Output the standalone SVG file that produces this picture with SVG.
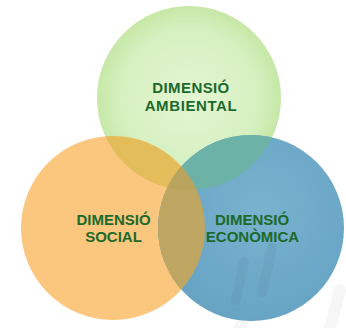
<svg xmlns="http://www.w3.org/2000/svg" width="346" height="328" viewBox="0 0 346 328">
<style>
.lbl{font-family:"Liberation Sans",Arial,sans-serif;font-weight:bold;font-size:15px;fill:#1b6a2b;text-anchor:middle}
.wm{fill:none;stroke:#000;stroke-opacity:0.035;stroke-linecap:round}
</style>
<defs>
<radialGradient id="gG" cx="0.5" cy="0.5" r="0.5">
<stop offset="0" stop-color="#e3f6d3"/>
<stop offset="0.75" stop-color="#d6f0c0"/>
<stop offset="1" stop-color="#c6e8a6"/>
</radialGradient>
<radialGradient id="gB" cx="0.55" cy="0.4" r="0.6">
<stop offset="0" stop-color="#78b2ce"/>
<stop offset="1" stop-color="#67a4c4"/>
</radialGradient>
<clipPath id="cG"><circle cx="189" cy="98" r="92"/></clipPath>
<clipPath id="cO"><circle cx="113" cy="228" r="92"/></clipPath>
<clipPath id="cB"><circle cx="251" cy="228" r="93"/></clipPath>
</defs>
<rect width="346" height="328" fill="#ffffff"/>
<g id="watermark">
<path class="wm" d="M252 298 L240 328" stroke-width="12"/>
<path class="wm" d="M340 290 L330 328" stroke-width="12"/>
</g>
<g id="ambiental">
<circle cx="189" cy="98" r="92" fill="url(#gG)"/>
</g>
<g id="social">
<circle cx="113" cy="228" r="92" fill="#fbc67d"/>
</g>
<g id="economica">
<circle cx="251" cy="228" r="93" fill="url(#gB)"/>
</g>
<g id="overlaps">
<g clip-path="url(#cG)"><circle cx="113" cy="228" r="92" fill="#e3bd59"/></g>
<g clip-path="url(#cG)"><circle cx="251" cy="228" r="93" fill="#6db2a6"/></g>
<g clip-path="url(#cO)"><circle cx="251" cy="228" r="93" fill="#c0a663"/></g>
<g clip-path="url(#cO)"><g clip-path="url(#cG)"><circle cx="251" cy="228" r="93" fill="#b9a45e"/></g></g>
</g>
<g id="watermark-over" clip-path="url(#cB)">
<path class="wm" d="M244 262 L236 300" stroke-width="10" stroke-opacity="0.025"/>
<path class="wm" d="M272 248 L262 292" stroke-width="10" stroke-opacity="0.025"/>
</g>
<g id="labels">
<text class="lbl" x="191" y="93" letter-spacing="0.4">DIMENSIÓ</text>
<text class="lbl" x="191" y="111" letter-spacing="0.6">AMBIENTAL</text>
<text class="lbl" x="113.5" y="225">DIMENSIÓ</text>
<text class="lbl" x="113.5" y="242">SOCIAL</text>
<text class="lbl" x="252" y="225">DIMENSIÓ</text>
<text class="lbl" x="252.5" y="242">ECONÒMICA</text>
</g>
</svg>
